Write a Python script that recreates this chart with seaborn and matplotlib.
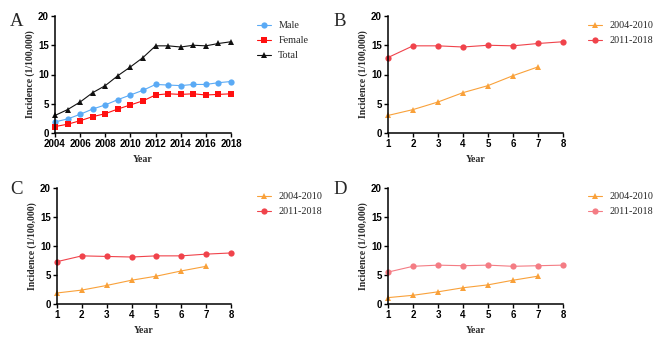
import matplotlib
matplotlib.use("Agg")
import matplotlib.pyplot as plt
import seaborn as sns
import pandas as pd

years = list(range(2004, 2019))
male = [1.9, 2.4, 3.2, 4.1, 4.8, 5.7, 6.5, 7.3, 8.3, 8.2, 8.1, 8.3, 8.3, 8.6, 8.8]
female = [1.1, 1.5, 2.1, 2.8, 3.3, 4.1, 4.8, 5.5, 6.5, 6.7, 6.6, 6.7, 6.5, 6.6, 6.7]
total = [3.0, 4.0, 5.3, 6.9, 8.1, 9.8, 11.3, 12.9, 14.9, 14.9, 14.7, 15.0, 14.9, 15.3, 15.6]

period_x1 = list(range(1, 8))
period_x2 = list(range(1, 9))
total_p1 = total[:7]
total_p2 = total[7:]
male_p1 = male[:7]
male_p2 = male[7:]
female_p1 = female[:7]
female_p2 = female[7:]

sns.set_style("ticks")
plt.rcParams['font.family'] = ['Liberation Sans', 'DejaVu Sans']

fig = plt.figure(figsize=(6.69, 3.41), dpi=100)
W, H = 669, 341

def ax_at(l, t, r, b):
    return fig.add_axes([l / W, 1 - b / H, (r - l) / W, (b - t) / H])

serif = 'Liberation Serif'

def style_ax(ax, xlim, xticks, letter, lx, ly):
    ax.set_ylim(0, 20)
    ax.set_yticks([0, 5, 10, 15, 20])
    ax.set_xlim(*xlim)
    ax.set_xticks(xticks)
    sns.despine(ax=ax)
    for s in ['left', 'bottom']:
        ax.spines[s].set_linewidth(1.1)
        ax.spines[s].set_color('black')
    ax.tick_params(axis='both', length=3, width=1.0, labelsize=7, pad=1.5, colors='black')
    for lab in ax.get_xticklabels() + ax.get_yticklabels():
        lab.set_fontweight('bold')
    ax.set_xlabel('Year', fontfamily=serif, fontweight='bold', fontsize=7, labelpad=4)
    ax.set_ylabel('Incidence (1/100,000)', fontfamily=serif, fontweight='bold', fontsize=6.9, labelpad=2)
    fig.text(lx / W, 1 - ly / H, letter, fontfamily=serif, fontsize=13.5, va='center', ha='left')

def series(ax, x, y, color, marker, label, ms=4.5):
    df = pd.DataFrame({'x': x, 'y': y})
    sns.lineplot(data=df, x='x', y='y', ax=ax, color=color, marker=marker, markersize=ms,
                 markeredgewidth=0, linewidth=0.8, label=label)

def legend(ax, bx, by):
    ax.legend(loc='upper left', bbox_to_anchor=(bx / W, 1 - by / H), bbox_transform=fig.transFigure,
              frameon=False, prop={'family': serif, 'size': 7.3}, handlelength=1.4,
              handletextpad=0.7, labelspacing=0.6, borderpad=0, borderaxespad=0)

# Panel A
axA = ax_at(55, 16, 231, 133)
series(axA, years, male, '#5aaaf5', 'o', 'Male')
series(axA, years, female, '#ff1010', 's', 'Female')
series(axA, years, total, '#111111', '^', 'Total')
style_ax(axA, (2004, 2018), list(range(2004, 2019, 2)), 'A', 10, 21)
legend(axA, 257, 21)

orange = '#f9a13a'

# Panel B
axB = ax_at(388, 16, 563, 133)
series(axB, period_x1, total_p1, orange, '^', '2004-2010')
series(axB, period_x2, total_p2, '#f0434b', 'o', '2011-2018')
style_ax(axB, (1, 8), list(range(1, 9)), 'B', 333, 21)
legend(axB, 588, 21)

# Panel C
axC = ax_at(57, 188, 231, 304)
series(axC, period_x1, male_p1, orange, '^', '2004-2010')
series(axC, period_x2, male_p2, '#f0434b', 'o', '2011-2018')
style_ax(axC, (1, 8), list(range(1, 9)), 'C', 10, 190)
legend(axC, 257, 192)

# Panel D
axD = ax_at(388, 188, 563, 304)
series(axD, period_x1, female_p1, orange, '^', '2004-2010')
series(axD, period_x2, female_p2, '#f47c84', 'o', '2011-2018')
style_ax(axD, (1, 8), list(range(1, 9)), 'D', 333, 190)
legend(axD, 588, 192)

for ax in [axA, axB, axC, axD]:
    for ln in ax.get_lines():
        ln.set_clip_on(False)

fig.savefig('out.png', dpi=100)
